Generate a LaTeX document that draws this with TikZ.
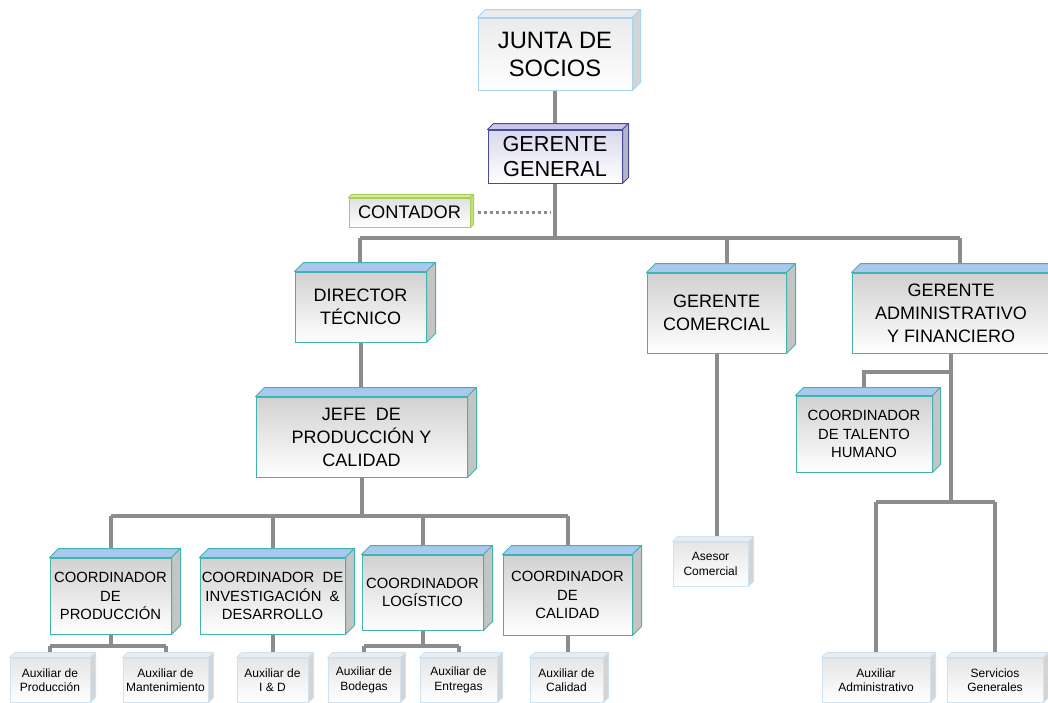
\documentclass[tikz,border=0pt]{standalone}
\usepackage{fontspec}
\setmainfont{Liberation Sans}
\usetikzlibrary{backgrounds}

\definecolor{gris}{RGB}{140,140,140}
\definecolor{bordeverde}{RGB}{64,180,174}
\definecolor{tapaazul}{RGB}{168,200,238}
\definecolor{ladogris}{RGB}{196,196,196}
\definecolor{bordecielo}{RGB}{166,212,242}
\definecolor{bordemorado}{RGB}{74,74,154}
\definecolor{tapamorada}{RGB}{200,200,230}
\definecolor{ladomorado}{RGB}{180,180,204}
\definecolor{bordelima}{RGB}{169,207,79}
\definecolor{tapalima}{RGB}{216,234,168}
\definecolor{ladolima}{RGB}{198,222,138}
\definecolor{bordeaux}{RGB}{205,227,243}
\definecolor{tapaaux}{RGB}{236,236,236}
\definecolor{ladoaux}{RGB}{212,212,212}

\newcommand{\caras}[5]{%
  \filldraw[draw=#3, fill=#4, line width=1pt, line join=round] (#1.north west) -- ++(#2,-#2) -- ([shift={(#2,-#2)}]#1.north east) -- (#1.north east) -- cycle;
  \filldraw[draw=#3, fill=#5, line width=1pt, line join=round] (#1.north east) -- ++(#2,-#2) -- ([shift={(#2,-#2)}]#1.south east) -- (#1.south east) -- cycle;
}

\begin{document}
\begin{tikzpicture}[x=1pt, y=-1pt,
  caja/.style = {draw=bordeverde, line width=1pt, top color=black!18, bottom color=white, align=center, inner sep=0pt, text=black},
  grande/.style = {caja, font=\fontsize{18}{23}\selectfont, minimum height=80pt},
  media/.style = {caja, font=\fontsize{14.8}{18.3}\selectfont, minimum height=76pt},
  aux/.style = {caja, draw=bordeaux, top color=black!10, font=\fontsize{12}{14.5}\selectfont, minimum height=44pt},
  linea/.style = {draw=gris, line width=4pt},
  punteado/.style = {draw=gris, line width=3pt, dash pattern=on 3pt off 3pt}]
  \useasboundingbox (0,0) rectangle (1048,702);

  \node[caja, draw=bordecielo, top color=black!8, font=\fontsize{23.7}{28}\selectfont, minimum width=154pt, minimum height=72pt] (junta) at (555,54) {JUNTA DE\\SOCIOS};
  \node[caja, draw=bordemorado, top color=tapamorada!70, bottom color=white, font=\fontsize{21.7}{25}\selectfont, minimum width=134pt, minimum height=53pt] (gerente) at (555,156.5) {GERENTE\\GENERAL};
  \node[caja, draw=bordelima, top color=black!12, font=\fontsize{18.2}{22}\selectfont, minimum width=121pt, minimum height=29pt] (contador) at (409.5,212.5) {CONTADOR};
  \node[grande, minimum width=131pt, minimum height=70pt] (director) at (360.5,307) {DIRECTOR\\TÉCNICO};
  \node[grande, minimum width=139pt] (comercial) at (716.5,313) {GERENTE\\COMERCIAL};
  \node[grande, minimum width=198pt] (admin) at (951,313) {GERENTE\\ADMINISTRATIVO\\Y FINANCIERO};
  \node[grande, minimum width=211pt] (jefe) at (361.5,437) {JEFE\ \ DE\\PRODUCCIÓN Y\\CALIDAD};
  \node[media, minimum width=136pt] (talento) at (864,434) {COORDINADOR\\DE TALENTO\\HUMANO};
  \node[media, minimum width=121pt] (cprod) at (110.5,596) {COORDINADOR\\DE\\PRODUCCIÓN};
  \node[media, minimum width=145pt] (cinv) at (272.5,596) {COORDINADOR\ \ DE\\INVESTIGACIÓN\ \ \&\\DESARROLLO};
  \node[media, minimum width=121pt, minimum height=75pt] (clog) at (422.5,592.5) {COORDINADOR\\LOGÍSTICO};
  \node[media, minimum width=129pt, minimum height=80pt] (ccal) at (567.5,595) {COORDINADOR\\DE\\CALIDAD};
  \node[aux, minimum width=80pt] (auxprod) at (50,680) {Auxiliar de\\Producción};
  \node[aux, minimum width=85pt] (auxmant) at (165.5,680) {Auxiliar de\\Mantenimiento};
  \node[aux, minimum width=71pt] (auxinv) at (272.5,680) {Auxiliar de\\I \& D};
  \node[aux, minimum width=72pt] (auxbod) at (364,680) {Auxiliar de\\Bodegas};
  \node[aux, minimum width=77pt] (auxent) at (458.5,680) {Auxiliar de\\Entregas};
  \node[aux, minimum width=73pt] (auxcal) at (566.5,680) {Auxiliar de\\Calidad};
  \node[aux, minimum width=75pt] (asesor) at (710.5,564) {Asesor\\Comercial};
  \node[aux, minimum width=108pt] (auxadm) at (876,680) {Auxiliar\\Administrativo};
  \node[aux, minimum width=96pt] (servicios) at (995,680) {Servicios\\Generales};

  \caras{junta}{8}{bordecielo}{tapaaux}{ladoaux}
  \caras{gerente}{6}{bordemorado}{tapamorada}{ladomorado}
  \caras{contador}{3}{bordelima}{tapalima}{ladolima}
  \foreach \n in {director, comercial, admin, jefe, cprod, cinv, clog, ccal}
    \caras{\n}{9}{bordeverde}{tapaazul}{ladogris};
  \caras{talento}{8}{bordeverde}{tapaazul}{ladogris}
  \foreach \n in {auxprod, auxmant, auxinv, auxbod, auxent, auxcal, asesor, auxadm, servicios}
    \caras{\n}{5}{bordeaux}{tapaaux}{ladoaux};

  \coordinate (b0) at (555,238);
  \coordinate (bd) at (360,238);
  \coordinate (bc) at (727,238);
  \coordinate (ba) at (960,238);
  \coordinate (k) at (550,212.5);
  \coordinate (bj) at (361,516);
  \coordinate (bp) at (108,646);
  \coordinate (bt) at (951,372);
  \coordinate (br) at (951,502);

  \begin{pgfonlayer}{background}
    \draw[linea] (junta) -- (gerente);
    \draw[linea] (gerente) -- (b0);
    \draw[linea] (bd) -- (ba);
    \draw[linea] (bd) -- (bd |- director.north);
    \draw[linea] (bc) -- (bc |- comercial.north);
    \draw[linea] (ba) -- (ba |- admin.north);
    \draw[linea] (director.south) -- (director.south |- jefe.north);
    \draw[linea] (jefe.south) -- (jefe.south |- bj);
    \draw[linea] (cprod.north |- bj) -- (ccal.north |- bj);
    \foreach \n in {cprod, cinv, clog, ccal}
      \draw[linea] (\n.north |- bj) -- (\n.north);
    \draw[linea] (cprod.south) -- (cprod.south |- bp);
    \draw[linea] (auxprod.north |- bp) -- (auxmant.north |- bp);
    \draw[linea] (auxprod.north |- bp) -- (auxprod.north);
    \draw[linea] (auxmant.north |- bp) -- (auxmant.north);
    \draw[linea] (cinv.south) -- (auxinv.north);
    \draw[linea] (clog.south) -- (clog.south |- bp);
    \draw[linea] (auxbod.north |- bp) -- (auxent.north |- bp);
    \draw[linea] (auxbod.north |- bp) -- (auxbod.north);
    \draw[linea] (auxent.north |- bp) -- (auxent.north);
    \draw[linea] (ccal.south) -- (ccal.south |- auxcal.north);
    \draw[linea] (comercial.south) -- (comercial.south |- asesor.north);
    \draw[linea] (admin.south) -- (br);
    \draw[linea] (bt) -| (talento.north);
    \draw[linea] (auxadm.north |- br) -- (servicios.north |- br);
    \draw[linea] (auxadm.north |- br) -- (auxadm.north);
    \draw[linea] (servicios.north |- br) -- (servicios.north);
  \end{pgfonlayer}
  \draw[punteado] ([xshift=7pt]contador.east) -- (k);
\end{tikzpicture}
\end{document}
